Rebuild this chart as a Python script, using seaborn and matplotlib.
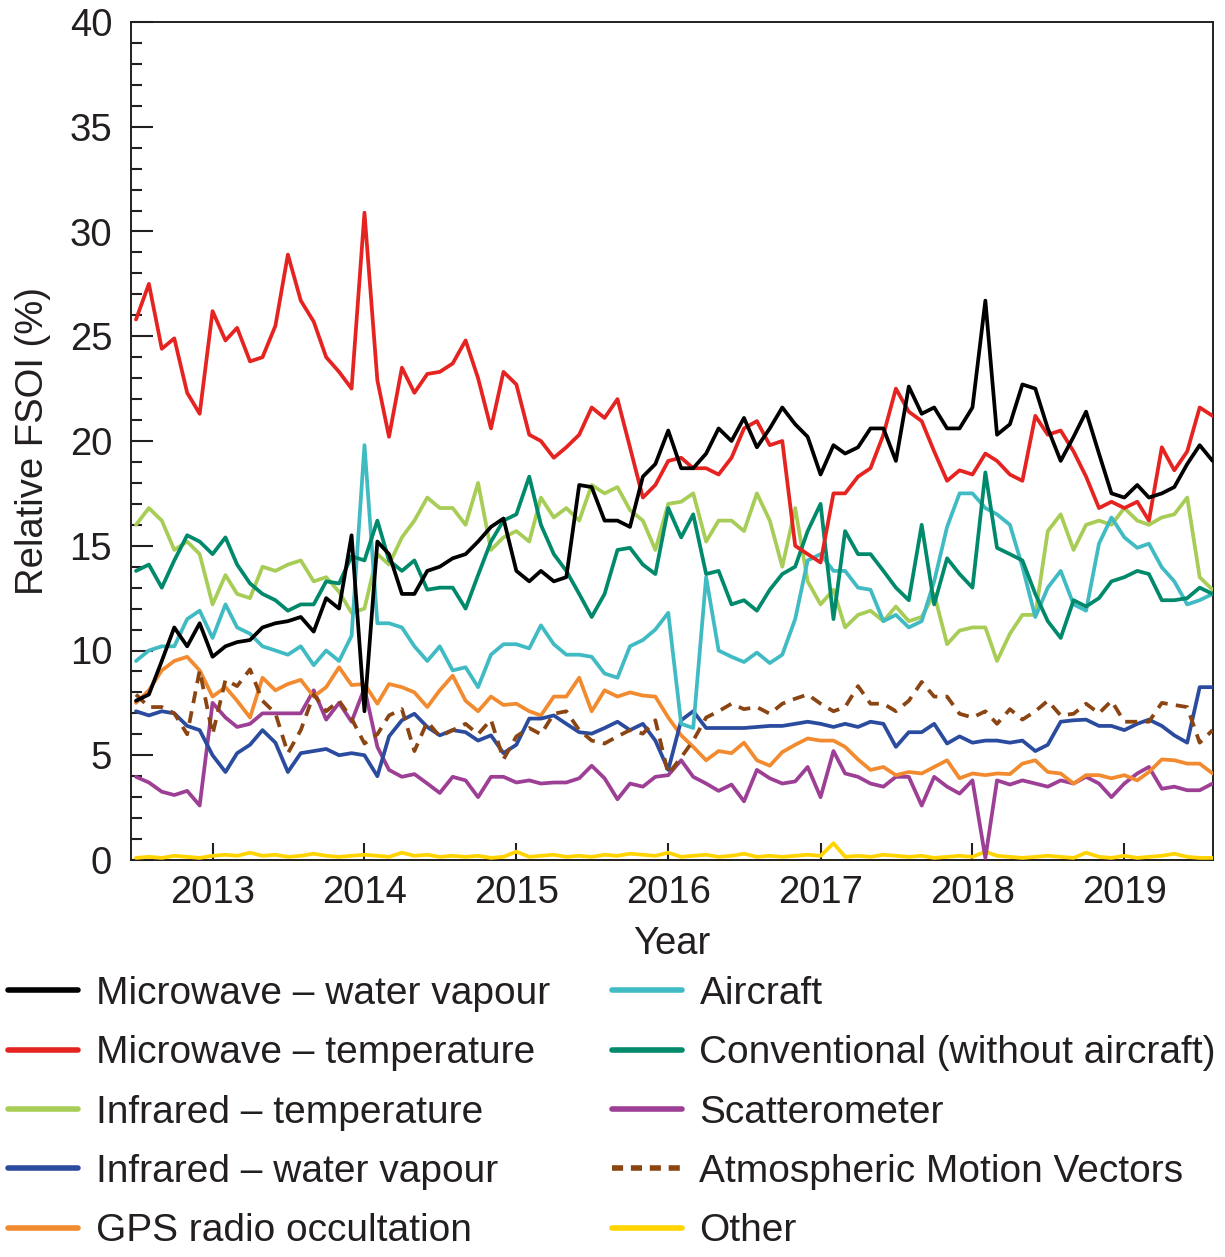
import numpy as np
import pandas as pd
import matplotlib
matplotlib.use("Agg")
import matplotlib.pyplot as plt
import matplotlib.dates as mdates
from matplotlib.lines import Line2D
from matplotlib.ticker import MultipleLocator
import seaborn as sns

# ---------------- data (monthly readings, Jul 2012 - Jul 2019) ----------------
dates = pd.date_range("2012-07-01", periods=86, freq="MS")

mw_temp = [25.8, 27.5, 24.4, 24.9, 22.3, 21.3, 26.2, 24.8, 25.4, 23.8, 24.0, 25.5, 28.9, 26.7, 25.7, 24.0, 23.3, 22.5,
           30.9, 22.9, 20.2, 23.5, 22.3, 23.2, 23.3, 23.7, 24.8, 23.0, 20.6, 23.3, 22.7, 20.3, 20.0, 19.2, 19.7,
           20.3, 21.6, 21.1, 22.0, 19.7, 17.3, 17.9, 19.05, 19.2, 18.7, 18.7, 18.4, 19.2, 20.6, 20.95, 19.8, 20.0, 15.0,
           14.6, 14.2, 17.5, 17.5, 18.3, 18.7, 20.3, 22.5, 21.4, 20.95, 19.5, 18.1, 18.6, 18.4, 19.4, 19.05, 18.4, 18.1,
           21.2, 20.3, 20.5, 19.5, 18.3, 16.8, 17.1, 16.8, 17.1, 16.2, 19.7, 18.6, 19.5, 21.6, 21.2]

mw_wv = [7.6, 7.9, 9.5, 11.1, 10.2, 11.3, 9.7, 10.2, 10.4, 10.5, 11.1, 11.3, 11.4, 11.6, 10.9, 12.5, 12.0, 15.5,
         7.1, 15.2, 14.6, 12.7, 12.7, 13.8, 14.0, 14.4, 14.6, 15.2, 15.9, 16.3, 13.8, 13.3, 13.8, 13.3, 13.5,
         17.9, 17.8, 16.2, 16.2, 15.9, 18.3, 18.9, 20.5, 18.7, 18.7, 19.4, 20.6, 20.0, 21.1, 19.7, 20.6, 21.6, 20.8,
         20.2, 18.4, 19.8, 19.4, 19.7, 20.6, 20.6, 19.05, 22.6, 21.3, 21.6, 20.6, 20.6, 21.6, 26.7, 20.3, 20.8, 22.7,
         22.5, 20.6, 19.05, 20.2, 21.4, 19.4, 17.5, 17.3, 17.9, 17.3, 17.5, 17.8, 18.9, 19.8, 19.05]

ir_temp = [16.0, 16.8, 16.2, 14.8, 15.2, 14.6, 12.2, 13.6, 12.7, 12.5, 14.0, 13.8, 14.1, 14.3, 13.3, 13.5, 12.8, 11.8,
           12.0, 14.6, 14.1, 15.4, 16.2, 17.3, 16.8, 16.8, 16.0, 18.0, 14.8, 15.4, 15.7, 15.2, 17.3, 16.35, 16.8,
           16.2, 17.9, 17.5, 17.8, 16.7, 16.2, 14.8, 17.0, 17.1, 17.5, 15.2, 16.2, 16.2, 15.7, 17.5, 16.2, 14.0, 16.8,
           13.3, 12.2, 12.9, 11.1, 11.7, 11.9, 11.4, 12.1, 11.4, 11.6, 12.7, 10.3, 10.95, 11.1, 11.1, 9.5, 10.8, 11.7,
           11.7, 15.7, 16.5, 14.8, 16.0, 16.2, 16.0, 16.8, 16.2, 16.0, 16.35, 16.5, 17.3, 13.5, 12.9]

ir_wv = [7.1, 6.9, 7.1, 7.0, 6.4, 6.2, 5.0, 4.2, 5.1, 5.5, 6.2, 5.6, 4.2, 5.1, 5.2, 5.3, 5.0, 5.1,
         5.0, 4.0, 5.9, 6.67, 6.98, 6.35, 5.95, 6.2, 6.1, 5.7, 5.95, 5.1, 5.5, 6.75, 6.75, 6.9, 6.5,
         6.1, 6.03, 6.3, 6.6, 6.2, 6.5, 5.7, 4.3, 6.67, 7.1, 6.3, 6.3, 6.3, 6.3, 6.35, 6.4, 6.4, 6.5,
         6.6, 6.5, 6.35, 6.5, 6.35, 6.6, 6.5, 5.4, 6.1, 6.1, 6.5, 5.56, 5.9, 5.6, 5.7, 5.7, 5.6, 5.7,
         5.2, 5.5, 6.6, 6.67, 6.7, 6.4, 6.4, 6.2, 6.5, 6.7, 6.4, 5.95, 5.6, 8.25, 8.25]

gps_ro = [7.5, 8.1, 9.05, 9.5, 9.7, 9.05, 7.8, 8.25, 7.6, 6.8, 8.7, 8.1, 8.4, 8.6, 7.8, 8.25, 9.2, 8.35,
          8.4, 7.46, 8.4, 8.25, 8.0, 7.3, 8.1, 8.8, 7.6, 7.1, 7.8, 7.4, 7.46, 7.1, 6.9, 7.8, 7.8,
          8.7, 7.1, 8.1, 7.8, 8.0, 7.85, 7.8, 6.8, 5.95, 5.4, 4.76, 5.2, 5.1, 5.6, 4.76, 4.5, 5.15, 5.5,
          5.8, 5.7, 5.7, 5.4, 4.8, 4.3, 4.44, 4.05, 4.2, 4.13, 4.44, 4.76, 3.9, 4.13, 4.05, 4.13, 4.1, 4.6,
          4.76, 4.2, 4.13, 3.65, 4.05, 4.05, 3.9, 4.05, 3.8, 4.2, 4.8, 4.76, 4.6, 4.6, 4.13]

aircraft = [9.5, 10.0, 10.2, 10.2, 11.5, 11.9, 10.6, 12.2, 11.1, 10.8, 10.2, 10.0, 9.8, 10.2, 9.3, 10.0, 9.5, 10.7,
            19.8, 11.3, 11.3, 11.1, 10.2, 9.5, 10.2, 9.05, 9.2, 8.25, 9.8, 10.3, 10.3, 10.1, 11.2, 10.3, 9.8,
            9.8, 9.7, 8.9, 8.7, 10.2, 10.5, 11.0, 11.8, 6.5, 6.3, 13.5, 10.0, 9.7, 9.45, 9.9, 9.4, 9.8, 11.5,
            14.3, 14.6, 13.8, 13.8, 13.0, 12.9, 11.4, 11.7, 11.1, 11.4, 13.3, 15.9, 17.5, 17.5, 16.8, 16.5, 16.0, 14.0,
            11.6, 13.0, 13.8, 12.2, 11.9, 15.1, 16.35, 15.4, 14.9, 15.1, 13.97, 13.3, 12.2, 12.4, 12.7]

conventional = [13.8, 14.1, 13.0, 14.3, 15.5, 15.2, 14.6, 15.4, 14.1, 13.2, 12.7, 12.4, 11.9, 12.2, 12.2, 13.3, 13.2, 14.5,
                14.3, 16.2, 14.3, 13.8, 14.3, 12.9, 13.0, 13.0, 12.0, 13.6, 15.2, 16.2, 16.5, 18.3, 16.0, 14.6, 13.8,
                12.7, 11.6, 12.7, 14.8, 14.9, 14.1, 13.65, 16.8, 15.4, 16.5, 13.65, 13.8, 12.2, 12.4, 11.9, 12.9, 13.65, 14.0,
                15.7, 17.0, 11.5, 15.7, 14.6, 14.6, 13.8, 13.0, 12.4, 16.0, 12.2, 14.4, 13.65, 13.0, 18.5, 14.9, 14.6, 14.3,
                12.7, 11.4, 10.6, 12.4, 12.1, 12.5, 13.3, 13.5, 13.8, 13.65, 12.4, 12.4, 12.5, 13.0, 12.7]

scatterometer = [3.97, 3.7, 3.26, 3.1, 3.3, 2.6, 7.5, 6.8, 6.35, 6.5, 7.0, 7.0, 7.0, 7.0, 8.1, 6.7, 7.5, 6.6,
                 8.2, 5.4, 4.3, 3.97, 4.1, 3.65, 3.2, 3.97, 3.8, 3.0, 3.97, 3.97, 3.7, 3.8, 3.65, 3.7, 3.7,
                 3.9, 4.5, 3.9, 2.9, 3.65, 3.5, 3.97, 4.05, 4.76, 3.97, 3.65, 3.3, 3.6, 2.8, 4.3, 3.9, 3.65, 3.75,
                 4.44, 3.0, 5.2, 4.13, 3.97, 3.65, 3.5, 3.97, 3.97, 2.6, 3.97, 3.5, 3.17, 3.8, 0.1, 3.8, 3.6, 3.8,
                 3.65, 3.5, 3.8, 3.65, 3.97, 3.65, 3.0, 3.65, 4.13, 4.44, 3.4, 3.5, 3.33, 3.33, 3.65]

amv = [7.9, 7.3, 7.3, 7.0, 6.0, 9.05, 6.0, 8.6, 8.3, 9.1, 7.6, 7.0, 5.1, 6.2, 7.9, 7.1, 7.6, 6.75,
       5.56, 6.0, 6.9, 7.2, 5.2, 6.6, 5.9, 6.2, 6.5, 6.0, 6.7, 4.8, 5.9, 6.3, 6.0, 6.98, 7.1,
       6.2, 5.7, 5.56, 5.9, 6.2, 6.03, 6.67, 4.1, 4.9, 5.7, 6.8, 7.1, 7.46, 7.2, 7.3, 6.98, 7.46, 7.7,
       7.9, 7.46, 7.1, 7.3, 8.3, 7.46, 7.46, 7.1, 7.6, 8.5, 7.8, 7.8, 6.98, 6.8, 7.1, 6.5, 7.2, 6.7,
       7.1, 7.6, 6.9, 6.98, 7.46, 7.0, 7.6, 6.6, 6.6, 6.6, 7.5, 7.4, 7.3, 5.6, 6.2]

other = [0.1, 0.15, 0.1, 0.2, 0.15, 0.1, 0.2, 0.25, 0.2, 0.35, 0.2, 0.25, 0.15, 0.2, 0.3, 0.2, 0.15, 0.2,
         0.25, 0.2, 0.15, 0.35, 0.2, 0.25, 0.15, 0.2, 0.15, 0.2, 0.1, 0.15, 0.4, 0.15, 0.2, 0.25, 0.15,
         0.2, 0.15, 0.25, 0.2, 0.3, 0.25, 0.2, 0.35, 0.15, 0.2, 0.25, 0.15, 0.2, 0.3, 0.15, 0.2, 0.15, 0.2,
         0.25, 0.2, 0.8, 0.15, 0.2, 0.15, 0.25, 0.2, 0.15, 0.2, 0.1, 0.15, 0.2, 0.15, 0.4, 0.2, 0.15, 0.1,
         0.15, 0.2, 0.15, 0.1, 0.35, 0.15, 0.1, 0.2, 0.1, 0.15, 0.2, 0.3, 0.15, 0.1, 0.1]

labels = {
    "mw_wv": "Microwave \u2013 water vapour",
    "mw_temp": "Microwave \u2013 temperature",
    "ir_temp": "Infrared \u2013 temperature",
    "ir_wv": "Infrared \u2013 water vapour",
    "gps_ro": "GPS radio occultation",
    "aircraft": "Aircraft",
    "conventional": "Conventional (without aircraft)",
    "scatterometer": "Scatterometer",
    "amv": "Atmospheric Motion Vectors",
    "other": "Other",
}
values = {
    "mw_wv": mw_wv, "mw_temp": mw_temp, "ir_temp": ir_temp, "ir_wv": ir_wv,
    "gps_ro": gps_ro, "aircraft": aircraft, "conventional": conventional,
    "scatterometer": scatterometer, "amv": amv, "other": other,
}
colors = {
    "mw_wv": "#000000", "mw_temp": "#E52421", "ir_temp": "#A7CD57", "ir_wv": "#2B4C9E",
    "gps_ro": "#F28A30", "aircraft": "#40BBC3", "conventional": "#00896B",
    "scatterometer": "#9C3F95", "amv": "#8B4513", "other": "#FFD400",
}
dashed = {"amv"}

draw_order = ["other", "scatterometer", "gps_ro", "ir_wv", "amv", "ir_temp",
              "aircraft", "conventional", "mw_temp", "mw_wv"]
legend_order = ["mw_wv", "mw_temp", "ir_temp", "ir_wv", "gps_ro",
                "aircraft", "conventional", "scatterometer", "amv", "other"]

# ---------------- figure ----------------
sns.set_theme(style="white")
plt.rcParams["font.family"] = ["Liberation Sans", "DejaVu Sans"]
plt.rcParams["text.color"] = "#231F20"
plt.rcParams["axes.labelcolor"] = "#231F20"
plt.rcParams["xtick.color"] = "#231F20"
plt.rcParams["ytick.color"] = "#231F20"

W, H = 1225, 1257
fig = plt.figure(figsize=(W / 100, H / 100), dpi=100)
ax = fig.add_axes([131 / W, 1 - 860 / H, (1213 - 131) / W, (860 - 22) / H])

for key in draw_order:
    ls = (0, (3.2, 2.2)) if key in dashed else "-"
    sns.lineplot(x=dates, y=values[key], ax=ax, color=colors[key],
                 linewidth=2.7, linestyle=ls, legend=False, zorder=3)

ax.set_xlim(pd.Timestamp("2012-06-19"), pd.Timestamp("2019-08-02"))
ax.set_ylim(0, 40)

ax.xaxis.set_major_locator(mdates.YearLocator())
ax.xaxis.set_major_formatter(mdates.DateFormatter("%Y"))
ax.yaxis.set_major_locator(MultipleLocator(5))
ax.yaxis.set_minor_locator(MultipleLocator(1))

ax.tick_params(axis="y", which="major", direction="in", length=15.5, width=1.5,
               left=True, right=False, labelsize=27.5, pad=13.5, color="#231F20")
ax.tick_params(axis="y", which="minor", direction="in", length=8, width=1.5,
               left=True, right=False, color="#231F20")
ax.tick_params(axis="x", which="major", direction="in", length=12, width=1.5,
               bottom=True, top=False, labelsize=27.5, pad=10.5, color="#231F20")

for sp in ax.spines.values():
    sp.set_color("#231F20")
    sp.set_linewidth(1.4)
    sp.set_visible(True)

ax.set_xlabel("Year", fontsize=27.5, labelpad=11)
ax.set_ylabel("Relative FSOI (%)", fontsize=27.5, labelpad=13)
ax.grid(False)

handles = []
for key in legend_order:
    ls = (0, (2.0, 1.4)) if key in dashed else "-"
    handles.append(Line2D([0], [0], color=colors[key], linewidth=4, linestyle=ls))
fig.legend(handles, [labels[k] for k in legend_order], loc="upper left",
           bbox_to_anchor=(8 / W, 1 - 976 / H), ncol=2, frameon=False,
           fontsize=28, handlelength=1.8, handletextpad=0.45,
           columnspacing=1.6, labelspacing=0.6, borderpad=0, borderaxespad=0)

fig.savefig("out.png", dpi=100)
